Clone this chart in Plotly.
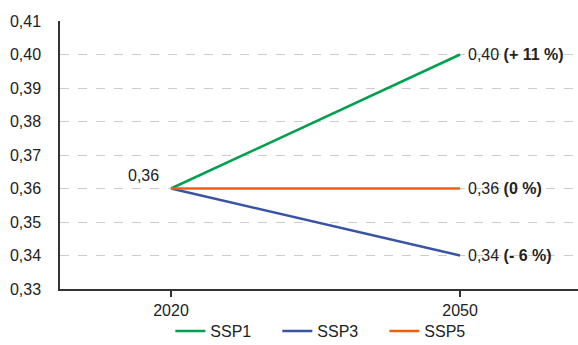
import plotly.graph_objects as go

years = ["2020", "2050"]
series_names = ["SSP1", "SSP3", "SSP5"]
ssp1 = [0.36, 0.40]
ssp3 = [0.36, 0.34]
ssp5 = [0.36, 0.36]
colors = ["#00A04F", "#3A54A4", "#F0600F"]
y_ticks = [0.33, 0.34, 0.35, 0.36, 0.37, 0.38, 0.39, 0.40, 0.41]

FONT = "Liberation Sans, Arial, Helvetica, sans-serif"
FS = 16

fig = go.Figure()
xs = list(range(len(years)))
for name, vals, col in zip(series_names, [ssp1, ssp3, ssp5], colors):
    fig.add_trace(go.Scatter(x=xs, y=vals, mode="lines", name=name,
                             line=dict(color=col, width=2.5)))

def fmt(v):
    return f"{v:.2f}".replace(".", ",")

# start label
fig.add_annotation(x=0, y=ssp1[0], text=fmt(ssp1[0]), showarrow=False,
                   xanchor="right", yanchor="bottom", xshift=-10, yshift=3,
                   font=dict(family=FONT, size=FS, color="#222"))
# end labels
for vals in [ssp1, ssp3, ssp5]:
    pct = round((vals[1] / vals[0] - 1) * 100)
    if pct > 0:
        p = f"+ {pct} %"
    elif pct < 0:
        p = f"- {abs(pct)} %"
    else:
        p = "0 %"
    fig.add_annotation(x=1, y=vals[1], text=f"{fmt(vals[1])} <b>({p})</b>",
                       showarrow=False, xanchor="left", yanchor="middle",
                       xshift=6, font=dict(family=FONT, size=FS, color="#222"))

fig.update_layout(
    width=578, height=345,
    margin=dict(l=60, r=0, t=21, b=56, autoexpand=False),
    paper_bgcolor="white", plot_bgcolor="white",
    separators=", ",
    font=dict(family=FONT, size=FS, color="#222"),
    showlegend=True,
    legend=dict(orientation="h", x=0.213, xanchor="left", y=-0.157,
                yanchor="middle", entrywidth=62, entrywidthmode="pixels",
                bgcolor="rgba(0,0,0,0)",
                font=dict(family=FONT, size=FS, color="#222")),
    xaxis=dict(range=[-0.384, 1.408], tickvals=xs, ticktext=years,
               showgrid=False, zeroline=False, showline=True, automargin=False,
               linecolor="#333", linewidth=1.5, ticks="outside",
               ticklen=6, tickcolor="#333", tickwidth=1.5),
    yaxis=dict(range=[0.33, 0.41], tickvals=y_ticks, tickformat=".2f",
               showgrid=True, gridcolor="#cccccc", griddash="dash",
               gridwidth=1, zeroline=False, showline=True, automargin=False,
               linecolor="#333", linewidth=1.5, ticks="", ticklabelstandoff=14),
)

fig.write_html("out.html", config={"displayModeBar": False},
               post_script="document.body.style.margin='0';")
